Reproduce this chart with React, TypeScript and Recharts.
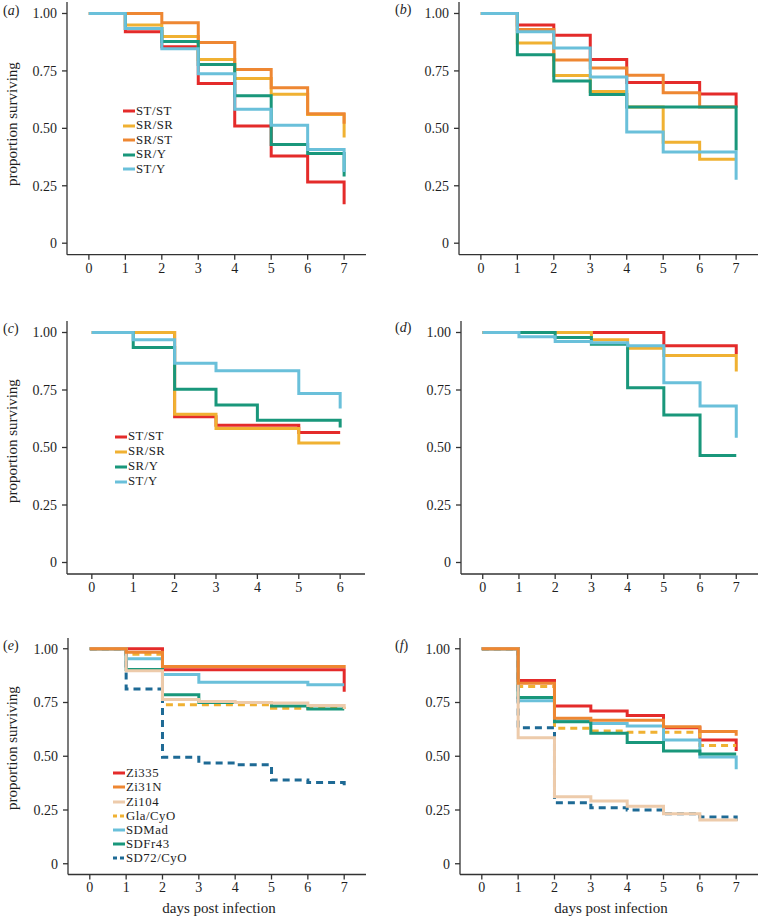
import React from 'react';
import { LineChart, Line, XAxis, YAxis, Legend } from 'recharts';

// ---------- data ----------
const days7 = [0, 1, 2, 3, 4, 5, 6, 7];
const days6 = [0, 1, 2, 3, 4, 5, 6];
const xTicks7 = [0, 1, 2, 3, 4, 5, 6, 7];
const xTicks6 = [0, 1, 2, 3, 4, 5, 6];
const yTicks = [0, 0.25, 0.5, 0.75, 1];

// panel (a)
const aNames = ['ST/ST', 'SR/SR', 'SR/ST', 'SR/Y', 'ST/Y'];
const aSTST = [1, 0.92, 0.855, 0.695, 0.51, 0.38, 0.266, 0.17];
const aSRSR = [1, 0.95, 0.9, 0.8, 0.717, 0.648, 0.56, 0.46];
const aSRST = [1, 1.0, 0.96, 0.874, 0.756, 0.677, 0.564, 0.52];
const aSRY = [1, 0.935, 0.878, 0.778, 0.642, 0.43, 0.39, 0.29];
const aSTY = [1, 0.935, 0.847, 0.738, 0.583, 0.513, 0.408, 0.31];

// panel (b)
const bSTST = [1, 0.95, 0.905, 0.8, 0.7, 0.7, 0.65, 0.59];
const bSRSR = [1, 0.872, 0.73, 0.66, 0.593, 0.44, 0.365, 0.365];
const bSRST = [1, 0.93, 0.797, 0.763, 0.731, 0.655, 0.593, 0.593];
const bSRY = [1, 0.82, 0.706, 0.647, 0.593, 0.593, 0.593, 0.404];
const bSTY = [1, 0.92, 0.85, 0.724, 0.484, 0.397, 0.397, 0.276];

// panel (c)
const cNames = ['ST/ST', 'SR/SR', 'SR/Y', 'ST/Y'];
const cSTST = [1, 1, 0.634, 0.597, 0.597, 0.565, 0.565];
const cSRSR = [1, 1, 0.645, 0.583, 0.583, 0.52, 0.52];
const cSRY = [1, 0.935, 0.753, 0.685, 0.619, 0.619, 0.587];
const cSTY = [1, 0.968, 0.866, 0.834, 0.834, 0.735, 0.67];

// panel (d)
const dSTST = [1, 1, 1, 1, 1, 0.942, 0.942, 0.906];
const dSRSR = [1, 1, 1, 0.968, 0.932, 0.9, 0.9, 0.83];
const dSRY = [1, 1, 0.978, 0.949, 0.76, 0.641, 0.465, 0.465];
const dSTY = [1, 0.981, 0.961, 0.955, 0.942, 0.782, 0.68, 0.542];

// panel (e)
const eNames = ['Zi335', 'Zi31N', 'Zi104', 'Gla/CyO', 'SDMad', 'SDFr43', 'SD72/CyO'];
const eZi335 = [1, 1, 0.902, 0.902, 0.902, 0.902, 0.902, 0.8];
const eZi31N = [1, 0.984, 0.917, 0.917, 0.917, 0.917, 0.917, 0.91];
const eZi104 = [1, 0.898, 0.764, 0.755, 0.75, 0.748, 0.736, 0.72];
const eGla = [1, 0.975, 0.74, 0.74, 0.74, 0.723, 0.723, 0.72];
const eSDMad = [1, 0.953, 0.88, 0.844, 0.844, 0.844, 0.833, 0.833];
const eSDFr43 = [1, 0.903, 0.786, 0.75, 0.75, 0.734, 0.72, 0.72];
const eSD72 = [1, 0.8125, 0.495, 0.469, 0.46, 0.39, 0.378, 0.343];

// panel (f)
const fZi335 = [1, 0.852, 0.734, 0.711, 0.69, 0.633, 0.576, 0.525];
const fZi31N = [1, 0.84, 0.677, 0.667, 0.667, 0.637, 0.615, 0.595];
const fZi104 = [1, 0.586, 0.312, 0.292, 0.268, 0.233, 0.203, 0.196];
const fGla = [1, 0.825, 0.63, 0.618, 0.612, 0.612, 0.55, 0.55];
const fSDMad = [1, 0.758, 0.665, 0.652, 0.641, 0.576, 0.497, 0.44];
const fSDFr43 = [1, 0.773, 0.66, 0.607, 0.564, 0.525, 0.51, 0.51];
const fSD72 = [1, 0.633, 0.284, 0.26, 0.25, 0.233, 0.217, 0.2];

// ---------- styles ----------
const COLORS: Record<string, string> = {
  'ST/ST': '#E42B2A',
  'SR/SR': '#F0B132',
  'SR/ST': '#EE8732',
  'SR/Y': '#19977B',
  'ST/Y': '#6AC0DA',
  Zi335: '#E42B2A',
  Zi31N: '#EE8732',
  Zi104: '#EDCBAB',
  'Gla/CyO': '#F0B132',
  SDMad: '#6AC0DA',
  SDFr43: '#19977B',
  'SD72/CyO': '#1E6A95',
};
const DASHED: Record<string, boolean> = { 'Gla/CyO': true, 'SD72/CyO': true };

const FONT = '"Liberation Serif", "Times New Roman", serif';
const AXIS = '#333333';
const TEXT = '#1e1e1e';

type S = { name: string; values: number[] };

type PanelProps = {
  left: number;
  top: number;
  width: number;
  height: number;
  days: number[];
  ticks: number[];
  series: S[];
  order: number[];
  legend?: { x: number; y: number; row: number; names: string[] };
};

const YW = 40;
const XH = 30;
const RP = 2;

function LegendBox({ names, row }: { names: string[]; row: number }) {
  return (
    <div style={{ fontFamily: FONT, color: TEXT }}>
      {names.map((n) => (
        <div key={n} style={{ display: 'flex', alignItems: 'center', height: row, overflow: 'visible' }}>
          <svg width={12} height={4} style={{ marginRight: 1, flex: 'none' }}>
            <line
              x1={0}
              y1={2}
              x2={12}
              y2={2}
              stroke={COLORS[n]}
              strokeWidth={3}
              strokeDasharray={DASHED[n] ? '4 3' : undefined}
            />
          </svg>
          <div
            style={{
              display: 'block',
              fontSize: 12.8,
              letterSpacing: 0.5,
              height: row,
              lineHeight: `${row}px`,
              whiteSpace: 'nowrap',
              overflow: 'visible',
            }}
          >
            {n}
          </div>
        </div>
      ))}
    </div>
  );
}

function Panel({ left, top, width, height, days, ticks, series, order, legend }: PanelProps) {
  const data = days.map((d, i) => {
    const row: Record<string, number> = { day: d };
    series.forEach((s, j) => {
      row['s' + j] = s.values[i];
    });
    return row;
  });
  const xMax = days[days.length - 1];
  const chartLeft = left - YW;
  const tickStyle = { fontFamily: FONT, fontSize: 14, fill: TEXT };
  return (
    <div style={{ position: 'absolute', left: chartLeft, top }}>
      <LineChart
        width={width + YW + RP}
        height={height + XH}
        data={data}
        margin={{ top: 0, right: RP, bottom: 0, left: 0 }}
      >
        <XAxis
          type="number"
          dataKey="day"
          domain={[-0.6, xMax + 0.6]}
          ticks={ticks}
          interval={0}
          height={XH}
          tick={tickStyle}
          tickSize={5}
          tickMargin={3}
          stroke={AXIS}
          strokeWidth={1.3}
          tickLine={{ stroke: AXIS, strokeWidth: 1.3 }}
        />
        <YAxis
          type="number"
          domain={[-0.05, 1.05]}
          ticks={yTicks}
          interval={0}
          width={YW}
          tick={tickStyle}
          tickSize={5}
          tickMargin={5}
          stroke={AXIS}
          strokeWidth={1.3}
          tickLine={{ stroke: AXIS, strokeWidth: 1.3 }}
          tickFormatter={(v: number) => (v === 0 ? '0' : v.toFixed(2))}
        />
        {order.map((j) => {
          const s = series[j];
          return (
            <Line
              key={s.name}
              dataKey={'s' + j}
              name={s.name}
              type="stepAfter"
              stroke={COLORS[s.name]}
              strokeWidth={3}
              strokeDasharray={DASHED[s.name] ? '7 5' : undefined}
              dot={false}
              activeDot={false}
              isAnimationActive={false}
            />
          );
        })}
        {legend && (
          <Legend
            layout="vertical"
            align="center"
            verticalAlign="middle"
            wrapperStyle={{
              left: legend.x - chartLeft,
              top: legend.y - legend.row / 2 - top,
              width: 120,
              height: 'auto',
            }}
            content={() => <LegendBox names={legend.names} row={legend.row} />}
          />
        )}
      </LineChart>
    </div>
  );
}

function PanelLabel({ x, y, letter }: { x: number; y: number; letter: string }) {
  return (
    <div
      style={{
        position: 'absolute',
        left: x,
        top: y - 8,
        height: 16,
        lineHeight: '16px',
        fontFamily: FONT,
        fontSize: 14,
        color: TEXT,
      }}
    >
      (<i>{letter}</i>)
    </div>
  );
}

function YTitle({ cy }: { cy: number }) {
  return (
    <div
      style={{
        position: 'absolute',
        left: 12 - 100,
        top: cy - 9,
        width: 200,
        height: 18,
        lineHeight: '18px',
        textAlign: 'center',
        transform: 'rotate(-90deg)',
        fontFamily: FONT,
        fontSize: 15,
        color: TEXT,
      }}
    >
      proportion surviving
    </div>
  );
}

function XTitle({ cx, cy }: { cx: number; cy: number }) {
  return (
    <div
      style={{
        position: 'absolute',
        left: cx - 100,
        top: cy - 9,
        width: 200,
        height: 18,
        lineHeight: '18px',
        textAlign: 'center',
        fontFamily: FONT,
        fontSize: 15,
        color: TEXT,
      }}
    >
      days post infection
    </div>
  );
}

export default function App() {
  const seriesA: S[] = [
    { name: aNames[0], values: aSTST },
    { name: aNames[1], values: aSRSR },
    { name: aNames[2], values: aSRST },
    { name: aNames[3], values: aSRY },
    { name: aNames[4], values: aSTY },
  ];
  const seriesB: S[] = [
    { name: aNames[0], values: bSTST },
    { name: aNames[1], values: bSRSR },
    { name: aNames[2], values: bSRST },
    { name: aNames[3], values: bSRY },
    { name: aNames[4], values: bSTY },
  ];
  const seriesC: S[] = [
    { name: cNames[0], values: cSTST },
    { name: cNames[1], values: cSRSR },
    { name: cNames[2], values: cSRY },
    { name: cNames[3], values: cSTY },
  ];
  const seriesD: S[] = [
    { name: cNames[0], values: dSTST },
    { name: cNames[1], values: dSRSR },
    { name: cNames[2], values: dSRY },
    { name: cNames[3], values: dSTY },
  ];
  const seriesE: S[] = [
    { name: eNames[0], values: eZi335 },
    { name: eNames[1], values: eZi31N },
    { name: eNames[2], values: eZi104 },
    { name: eNames[3], values: eGla },
    { name: eNames[4], values: eSDMad },
    { name: eNames[5], values: eSDFr43 },
    { name: eNames[6], values: eSD72 },
  ];
  const seriesF: S[] = [
    { name: eNames[0], values: fZi335 },
    { name: eNames[1], values: fZi31N },
    { name: eNames[2], values: fZi104 },
    { name: eNames[3], values: fGla },
    { name: eNames[4], values: fSDMad },
    { name: eNames[5], values: fSDFr43 },
    { name: eNames[6], values: fSD72 },
  ];
  const ord5 = [0, 1, 2, 3, 4];
  const ord4 = [0, 1, 2, 3];
  const ordE = [0, 3, 4, 5, 6, 2, 1];

  return (
    <div
      style={{
        position: 'absolute',
        left: 0,
        top: 0,
        width: 760,
        height: 917,
        overflow: 'hidden',
        background: '#ffffff',
      }}
    >
      <Panel left={67} top={2} width={299} height={252.7} days={days7} ticks={xTicks7}
        series={seriesA} order={ord5}
        legend={{ x: 123, y: 111, row: 14.6, names: aNames }} />
      <Panel left={459} top={2} width={299} height={252.7} days={days7} ticks={xTicks7}
        series={seriesB} order={ord5} />
      <Panel left={67} top={321} width={298} height={253} days={days6} ticks={xTicks6}
        series={seriesC} order={ord4}
        legend={{ x: 115, y: 436.7, row: 15, names: cNames }} />
      <Panel left={461} top={320.5} width={297} height={253} days={days7} ticks={xTicks7}
        series={seriesD} order={ord4} />
      <Panel left={68} top={637.5} width={298} height={236.5} days={days7} ticks={xTicks7}
        series={seriesE} order={ordE}
        legend={{ x: 113, y: 773.3, row: 14.2, names: eNames }} />
      <Panel left={460} top={637.5} width={298} height={236.5} days={days7} ticks={xTicks7}
        series={seriesF} order={ordE} />

      <PanelLabel x={3} y={11} letter="a" />
      <PanelLabel x={395} y={10} letter="b" />
      <PanelLabel x={3} y={329} letter="c" />
      <PanelLabel x={395} y={328} letter="d" />
      <PanelLabel x={3} y={646} letter="e" />
      <PanelLabel x={395} y={646} letter="f" />

      <YTitle cy={124} />
      <YTitle cy={441} />
      <YTitle cy={748} />
      <XTitle cx={219} cy={908} />
      <XTitle cx={611} cy={908} />
    </div>
  );
}
